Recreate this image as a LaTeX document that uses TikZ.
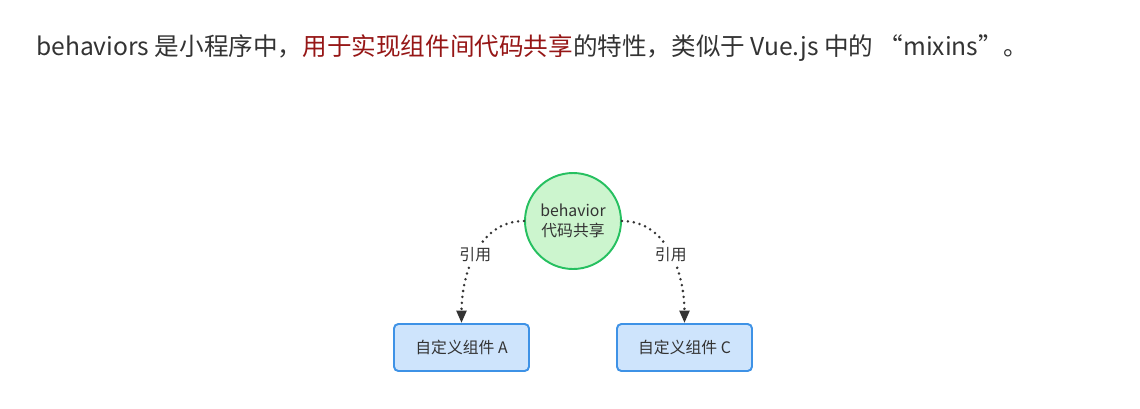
\documentclass[tikz,border=0pt]{standalone}
\usepackage{fontspec}
\setmainfont{Noto Sans CJK SC}
\usepackage{tikz}
\usetikzlibrary{arrows.meta, positioning}

\definecolor{txtgray}{RGB}{51,51,51}
\definecolor{hlred}{RGB}{150,22,22}
\definecolor{sharefill}{RGB}{204,245,206}
\definecolor{shareline}{RGB}{38,192,96}
\definecolor{compfill}{RGB}{206,228,252}
\definecolor{compline}{RGB}{62,146,230}

\begin{document}
\begin{tikzpicture}[
  share/.style={draw=shareline, fill=sharefill, line width=1.1pt, circle, minimum size=1.92cm, inner sep=0pt, align=center, font=\fontsize{9}{11.5}\selectfont, text=txtgray},
  comp/.style={draw=compline, fill=compfill, line width=1.1pt, rounded corners=2.5pt, minimum width=2.7cm, minimum height=0.94cm, font=\fontsize{9}{10}\selectfont, text=txtgray},
  ref/.style={-{Triangle[length=7pt, width=5.5pt]}, txtgray, line width=1.6pt, dash pattern=on 0pt off 3.4pt, line cap=round},
  reflabel/.style={fill=white, inner sep=1.5pt, font=\fontsize{9}{10}\selectfont, text=txtgray}
]
\useasboundingbox (0,0) rectangle (22.8,-8.16);
\fill[white] (0,0) rectangle (22.8,-8.16);

% heading line
\node[anchor=base west, inner sep=0pt, font=\fontsize{14}{16}\selectfont, text=txtgray] (intro) at (0.72,-1.1)
  {behaviors 是小程序中，\textcolor{hlred}{用于实现组件间代码共享}的特性，类似于 Vue.js 中的 “mixins”。};

\node[share] (behavior) at (11.46,-4.42) {behavior\\代码共享};
\node[comp] (compA) at (9.23,-6.95) {自定义组件 A};
\node[comp] (compC) at (13.69,-6.95) {自定义组件 C};

\draw[ref] (behavior.west) to[out=180, in=90] node[reflabel, pos=0.5] {引用} (compA.north);
\draw[ref] (behavior.east) to[out=0, in=90] node[reflabel, pos=0.5] {引用} (compC.north);
\end{tikzpicture}
\end{document}
